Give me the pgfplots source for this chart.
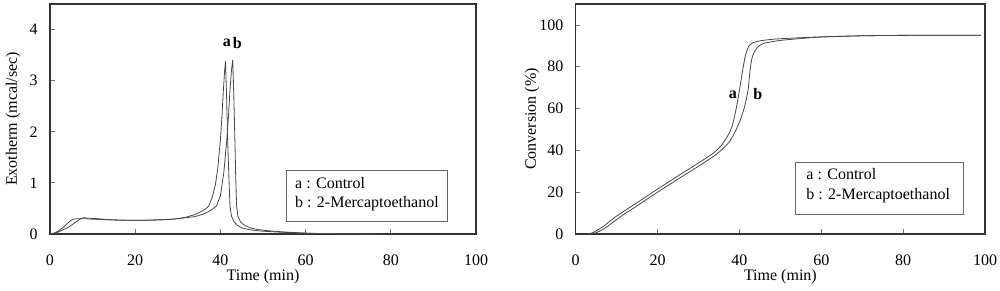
\documentclass[border=0pt]{standalone}
\usepackage{pgfplots}
\pgfplotsset{compat=1.18}
\usepackage{fontspec}
\setmainfont{Liberation Serif}
\begin{document}
\begin{tikzpicture}
\pgfplotsset{
  myax/.style={
    scale only axis,
    anchor=south west,
    height=172.5pt,
    xmin=0, xmax=100,
    xtick={0,20,40,60,80,100},
    tick align=inside,
    xtick pos=bottom, ytick pos=left,
    major tick length=3.5pt,
    every tick/.style={black!55, line width=0.6pt},
    axis line style={black!80, line width=0.9pt},
    font=\fontsize{12}{14}\selectfont,
    /pgf/number format/assume math mode=true,
    xticklabel style={anchor=center, yshift=-19.5pt},
    yticklabel style={xshift=-5.75pt},
    every axis x label/.style={at={(axis description cs:0.5,-0.187)}, anchor=center},
    clip=false,
  },
  curve/.style={black!72, line width=0.6pt},
}
\path[use as bounding box] (0,0) rectangle (750pt,217.5pt);
% ---------- left: exotherm ----------
\begin{axis}[myax,
  at={(37.5pt,42pt)}, width=319.5pt,
  ymin=0, ymax=4.5, ytick={0,1,2,3,4},
  xlabel={Time (min)},
  ylabel={Exotherm (mcal/sec)},
  every axis y label/.style={at={(axis description cs:-0.087,0.5)}, rotate=90, anchor=center},
]
\addplot[curve] coordinates {
(0,0) (1,0.02) (2,0.06) (3,0.12) (4,0.2) (4.8,0.26) (5.5,0.29) (6.5,0.3) (8,0.3)
(10,0.29) (13,0.28) (16,0.27) (20,0.27) (24,0.27) (27,0.28) (30,0.3) (32,0.33)
(34,0.38) (35.5,0.44) (36.5,0.49) (37.2,0.54) (38,0.7) (38.8,0.95) (39.4,1.3)
(40.0,1.84) (40.4,2.35) (40.7,2.82) (41.0,3.2) (41.2,3.38) (41.45,2.7) (41.7,1.84)
(42.0,1.1) (42.25,0.55) (42.6,0.35) (43.2,0.24) (44,0.17) (45,0.12) (46.5,0.09)
(48,0.07) (50,0.055) (53,0.04) (57,0.025) (62,0.012) (70,0.005) (78,0)
};
\addplot[curve] coordinates {
(0,0) (1,0.01) (2,0.04) (3,0.08) (4,0.12) (5,0.17) (6,0.23) (7,0.29) (7.8,0.32)
(9,0.31) (11,0.3) (14,0.28) (18,0.27) (22,0.27) (26,0.28) (29,0.29) (32,0.32)
(34,0.34) (36,0.39) (37.5,0.45) (39.1,0.55) (40,0.75) (40.8,1.2) (41.5,1.84)
(41.9,2.3) (42.25,2.82) (42.6,3.2) (42.9,3.41) (43.15,2.7) (43.4,1.84) (43.6,1.1)
(43.8,0.55) (44.1,0.35) (44.7,0.24) (45.5,0.18) (47,0.12) (49,0.085) (51,0.065)
(54,0.045) (57,0.03) (60,0.015) (62,0.01)
};
\node[font=\fontsize{12}{14}\selectfont\bfseries] at (axis cs:41.5,3.74) {a};
\node[font=\fontsize{12}{14}\selectfont\bfseries] at (axis cs:44.0,3.74) {b};
\draw[black!60, line width=0.6pt, fill=white] (rel axis cs:0.554,0.0565) rectangle (rel axis cs:0.934,0.278);
\node[anchor=west, inner sep=0pt] at (rel axis cs:0.575,0.223) {a : Control};
\node[anchor=west, inner sep=0pt] at (rel axis cs:0.575,0.1335) {b : 2-Mercaptoethanol};
\end{axis}
% ---------- right: conversion ----------
\begin{axis}[myax,
  at={(431.8pt,42pt)}, width=307pt,
  ymin=0, ymax=110, ytick={0,20,40,60,80,100},
  xlabel={Time (min)},
  ylabel={Conversion (\%)},
  every axis y label/.style={at={(axis description cs:-0.107,0.5)}, rotate=90, anchor=center},
]
\addplot[curve, smooth, tension=0.4] coordinates {
(3,0) (4,0.5) (5,1.5) (7,4) (9.2,7.5) (12,11.2) (15,15) (20,21.5) (25,27.8)
(30,34) (33.7,38.8) (35.5,42.2) (37,46.5) (37.9,50) (38.6,54.5) (39.3,61)
(40.0,68.9) (40.8,78.5) (41.4,85) (42.2,89.6) (43,91.2) (44.5,92.2) (47,92.9)
(50,93.4) (60,94.3) (70,94.8) (80,95) (99,95.1)
};
\addplot[curve, smooth, tension=0.4] coordinates {
(3.5,0) (4.5,0.3) (6,1.5) (7.5,3.3) (9.2,5.8) (12,9.7) (15,13.5) (20,20) (25,26.3)
(30,32.4) (33.7,37.2) (35.5,40) (37.5,44) (39.1,49.5) (40.2,54.5) (41.2,60.5)
(42.1,68.9) (42.6,78.5) (43.1,84.5) (43.9,88) (44.8,90) (46,91.2) (48,92)
(50,92.6) (55,93.5) (60,94.2) (70,94.8) (80,95) (99,95.1)
};
\node[font=\fontsize{12}{14}\selectfont\bfseries] at (axis cs:38.4,66.8) {a};
\node[font=\fontsize{12}{14}\selectfont\bfseries] at (axis cs:44.5,66.8) {b};
\draw[black!60, line width=0.6pt, fill=white] (rel axis cs:0.536,0.087) rectangle (rel axis cs:0.947,0.313);
\node[anchor=west, inner sep=0pt] at (rel axis cs:0.563,0.261) {a : Control};
\node[anchor=west, inner sep=0pt] at (rel axis cs:0.563,0.1667) {b : 2-Mercaptoethanol};
\end{axis}
\end{tikzpicture}
\end{document}
